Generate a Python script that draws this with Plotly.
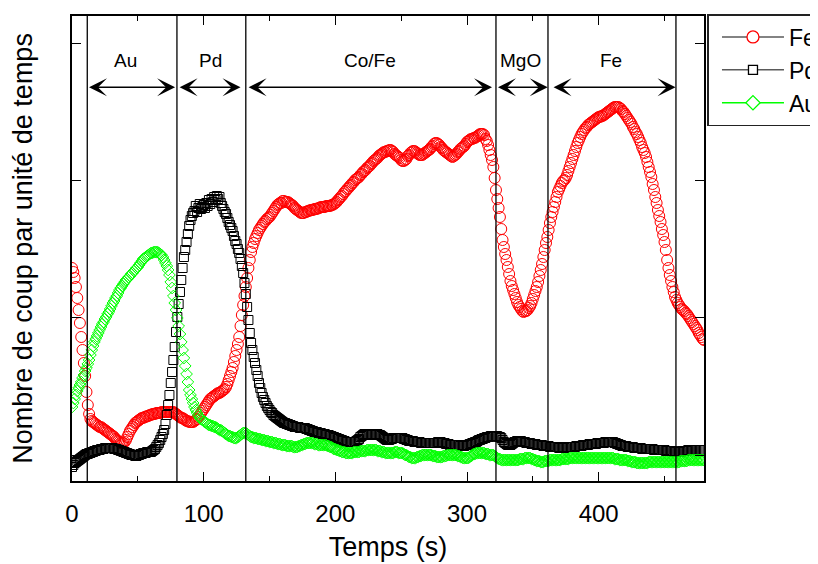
import plotly.graph_objects as go

# time axis (s), one sample per second
temps = list(range(0, 481))

# intensity (arbitrary counts units)
fe = [
    213,209,203,194,183,171,158,144,131,118,
    105,89,76,67,62,60,59,58,57,56,
    55,54,54,53,52,51,50,49,48,47,
    46,45,44,42,41,40,39,38,38,38,
    39,41,44,47,50,52,54,56,58,59,
    60,61,62,63,63,64,64,65,65,66,
    66,67,67,67,68,68,68,68,69,69,
    69,69,69,69,69,69,69,69,68,67,
    66,65,64,63,63,62,61,60,60,59,
    59,59,59,60,61,62,64,66,68,70,
    72,74,76,78,80,82,83,84,85,86,
    87,88,88,89,90,91,92,94,97,101,
    105,109,113,119,125,131,137,144,155,166,
    176,185,194,203,213,221,229,234,238,242,
    245,248,251,253,255,257,259,260,262,263,
    264,266,268,270,272,274,276,277,278,278,
    280,280,279,279,279,278,277,276,275,273,
    272,271,270,269,268,268,268,269,269,270,
    270,271,271,271,272,272,272,273,273,274,
    274,274,274,275,275,275,275,276,276,277,
    278,279,281,282,284,285,287,289,290,292,
    293,295,296,298,299,301,302,303,304,306,
    307,309,310,311,313,314,315,317,318,320,
    321,322,323,325,326,327,328,329,329,330,
    330,331,331,330,329,327,326,325,324,323,
    321,320,320,321,322,325,326,328,329,330,
    330,329,328,327,326,326,326,327,328,329,
    330,331,332,334,335,337,338,338,337,336,
    334,333,331,330,329,328,327,326,325,324,
    325,326,327,329,330,332,333,334,335,337,
    339,340,341,342,342,343,343,344,345,346,
    347,347,347,346,342,340,336,331,326,321,
    314,303,291,282,273,264,252,241,234,227,
    221,214,207,200,195,191,187,183,179,176,
    174,172,170,169,170,170,171,173,175,178,
    182,186,190,194,199,205,211,217,224,231,
    238,244,251,258,264,269,274,279,284,289,
    292,295,298,300,301,303,306,310,314,318,
    322,326,330,334,338,341,344,347,349,351,
    353,354,356,357,358,359,360,361,362,363,
    364,364,365,365,366,367,368,369,370,371,
    372,373,374,374,374,374,373,372,370,369,
    367,365,363,361,359,357,354,352,349,347,
    344,341,338,334,331,328,324,319,314,309,
    304,297,291,284,278,271,265,259,252,246,
    239,231,221,213,206,200,194,189,184,181,
    178,176,174,172,171,170,168,167,165,163,
    161,159,157,155,153,151,148,146,144,142,141,
]

pd_ = [
    14,16,18,19,20,21,22,23,24,25,
    26,27,27,28,28,29,29,30,30,31,
    31,31,32,32,32,33,33,33,33,33,
    33,33,32,32,32,31,31,30,30,29,
    29,28,28,27,27,26,26,26,25,25,
    26,26,27,27,28,28,28,29,29,29,
    29,30,31,32,34,36,38,41,44,47,
    51,57,66,76,86,98,109,121,134,149,
    164,177,189,201,213,224,231,239,247,255,
    261,265,268,270,275,269,273,277,272,274,
    276,273,278,275,281,277,282,279,284,281,
    285,282,284,278,275,272,269,267,263,259,
    256,253,250,245,240,237,232,228,222,215,
    208,198,187,174,161,148,138,131,124,118,
    111,105,98,93,88,84,81,78,75,73,
    71,69,68,66,65,64,63,62,61,60,
    59,58,58,57,57,56,56,55,55,54,
    54,54,54,53,53,53,53,53,52,52,
    51,51,50,50,49,49,49,48,48,48,
    47,47,47,46,46,46,45,45,44,44,
    43,43,42,42,41,41,40,40,39,39,
    39,39,39,39,39,39,40,41,42,44,
    45,46,47,47,47,46,46,46,47,47,
    47,47,47,46,46,45,44,43,42,41,
    41,41,42,42,43,43,43,43,43,43,
    43,43,42,42,41,41,40,40,40,40,
    39,39,39,39,39,38,38,38,38,38,
    38,38,38,38,38,38,38,38,39,39,
    39,38,38,38,37,37,37,36,36,36,
    36,36,36,36,36,35,35,35,35,36,
    36,36,37,37,38,38,39,39,40,41,
    41,42,42,43,43,44,44,44,45,45,
    45,45,45,45,44,44,43,41,39,38,
    37,36,36,36,37,38,39,39,40,40,
    40,40,39,39,39,38,38,38,38,37,
    37,37,37,36,36,36,36,36,35,35,
    35,35,35,34,34,34,34,34,34,34,
    33,33,33,33,33,34,34,34,34,34,
    34,34,34,35,35,35,35,35,36,36,
    36,36,36,37,37,37,37,37,37,38,
    38,38,38,38,38,39,39,39,39,39,
    39,39,38,38,37,37,36,36,35,35,
    35,35,34,34,34,34,34,33,33,33,
    33,33,33,32,32,32,32,32,32,32,
    32,32,31,31,31,31,31,31,31,31,
    31,30,30,30,30,30,30,29,29,29,
    29,29,29,30,30,30,30,30,31,31,
    31,31,31,31,31,31,31,31,31,31,31,
]

au = [
    74,78,82,86,90,93,96,99,103,106,
    110,113,117,121,126,131,135,139,142,145,
    148,151,154,157,159,162,164,167,169,172,
    175,178,180,183,185,188,191,193,195,197,
    199,201,202,204,205,207,208,210,211,213,
    214,216,218,220,222,223,224,225,226,227,
    228,228,229,229,229,229,228,227,226,224,
    221,218,215,211,206,199,193,185,178,171,
    163,155,147,139,131,123,115,107,99,91,
    86,82,78,74,71,68,65,63,62,61,
    60,59,58,57,56,56,55,55,54,54,
    53,52,51,51,50,49,48,47,46,45,
    45,44,44,43,43,43,44,45,46,47,
    48,48,48,47,46,45,44,44,43,43,
    43,42,42,42,41,41,41,40,40,40,
    39,39,39,38,38,38,37,37,37,36,
    36,36,36,35,35,35,35,35,34,34,
    34,34,35,35,36,36,37,37,38,38,
    38,38,38,38,37,37,37,36,36,36,
    36,36,36,36,35,35,34,34,33,32,
    32,31,31,30,30,29,29,29,28,28,
    28,28,28,28,29,29,29,29,29,30,
    30,30,30,30,31,31,31,31,31,31,
    31,31,30,30,30,29,29,29,28,28,
    28,28,28,28,28,29,29,29,28,28,
    28,28,27,26,26,25,24,24,23,23,
    23,23,24,24,25,25,26,26,26,26,
    26,26,26,26,25,25,25,24,24,24,
    24,24,25,25,25,26,26,26,26,26,
    26,26,26,25,25,24,24,23,23,23,
    23,23,24,25,26,27,27,28,28,28,
    28,28,28,28,27,27,27,26,26,26,
    26,25,24,23,22,22,21,21,21,21,
    21,21,21,21,21,21,21,21,21,21,
    22,22,22,22,23,23,23,23,23,22,
    22,21,21,20,20,20,19,19,19,20,
    20,20,20,21,21,21,21,21,21,21,
    21,21,22,22,22,22,22,22,23,23,
    23,23,23,23,23,23,23,23,23,23,
    23,23,23,23,23,23,23,23,23,23,
    23,23,23,23,23,23,23,23,23,23,
    23,23,22,22,22,22,21,21,21,21,
    21,21,20,20,20,19,19,19,19,18,
    18,18,18,18,18,18,18,18,19,19,
    19,19,19,19,19,19,19,19,19,19,
    19,19,19,19,19,19,19,19,19,19,
    19,19,20,20,20,20,20,20,21,21,
    21,21,21,21,21,21,21,21,21,21,21,
]

# layer boundaries (s) and labels
boundaries = [11.6, 79.7, 132, 322, 361.5, 458.7]
layer_names = ["Au", "Pd", "Co/Fe", "MgO", "Fe"]
layer_label_x = [40.8, 105.5, 226.2, 340.8, 409.6]
arrow_start = [11.8, 80.6, 133, 322.4, 364.6]
arrow_end = [78.3, 128, 319, 361.3, 458.4]
arrow_level = 393.7
label_level = 421
y_ticks = [26, 163.3, 300.6, 438]
x_ticks = [0, 100, 200, 300, 400]

FONT = "Arial, Liberation Sans, sans-serif"

fig = go.Figure()

fig.add_trace(go.Scatter(x=temps, y=fe, mode="markers", showlegend=False,
                         marker=dict(symbol="circle-open", size=11, color="#ff0000",
                                     line=dict(width=1, color="#ff0000"))))
fig.add_trace(go.Scatter(x=temps, y=pd_, mode="markers", showlegend=False,
                         marker=dict(symbol="square-open", size=9, color="#000000",
                                     line=dict(width=1, color="#000000"))))
fig.add_trace(go.Scatter(x=temps, y=au, mode="markers", showlegend=False,
                         marker=dict(symbol="diamond-open", size=9, color="#00ff00",
                                     line=dict(width=1, color="#00ff00"))))

# legend entries (white-filled symbols so the legend line is interrupted)
fig.add_trace(go.Scatter(x=[None], y=[None], mode="lines+markers", name="Fe",
                         line=dict(color="#5a5a5a", width=1.5),
                         marker=dict(symbol="circle", size=12, color="white",
                                     line=dict(width=1.3, color="#ff0000"))))
fig.add_trace(go.Scatter(x=[None], y=[None], mode="lines+markers", name="Pd",
                         line=dict(color="#5a5a5a", width=1.5),
                         marker=dict(symbol="square", size=9, color="white",
                                     line=dict(width=1.3, color="#000000"))))
fig.add_trace(go.Scatter(x=[None], y=[None], mode="lines+markers", name="Au",
                         line=dict(color="#00ff00", width=1.5),
                         marker=dict(symbol="diamond", size=11, color="white",
                                     line=dict(width=1.3, color="#00ff00"))))

shapes = []
for b in boundaries:
    shapes.append(dict(type="line", xref="x", yref="paper", x0=b, x1=b, y0=0, y1=1,
                       line=dict(color="black", width=1.3)))

annotations = []
for s, e in zip(arrow_start, arrow_end):
    annotations.append(dict(x=e, y=arrow_level, ax=s, ay=arrow_level, xref="x", yref="y",
                            axref="x", ayref="y", text="", showarrow=True,
                            arrowhead=3, startarrowhead=3, arrowside="end+start",
                            arrowsize=2, startarrowsize=2, arrowwidth=1.5,
                            arrowcolor="black", standoff=0, startstandoff=0))
for name, lx in zip(layer_names, layer_label_x):
    annotations.append(dict(x=lx, y=label_level, xref="x", yref="y", text=name,
                            showarrow=False, font=dict(family=FONT, size=19, color="black")))

# the page adds an 8 px body margin, so the figure is 8 px smaller each way
fig.update_layout(
    width=810, height=556,
    margin=dict(l=64, r=114, t=8, b=83, autoexpand=False),
    paper_bgcolor="white", plot_bgcolor="white",
    font=dict(family=FONT, color="black"),
    shapes=shapes, annotations=annotations,
    legend=dict(x=1.0055, y=1.0043, xanchor="left", yanchor="top",
                bordercolor="#222222", borderwidth=1.5, bgcolor="white",
                font=dict(family=FONT, size=23, color="black"),
                itemwidth=62, indentation=8, tracegroupgap=0),
)

fig.update_xaxes(range=[0, 480], tickvals=x_ticks, ticks="inside", ticklen=9, tickwidth=1.3,
                 tickcolor="black", showline=True, linecolor="black", linewidth=1.5,
                 mirror="allticks", showgrid=False, zeroline=False,
                 minor=dict(dtick=50, tick0=0, ticks="inside", ticklen=5, tickwidth=1.3,
                            tickcolor="black", showgrid=False),
                 tickfont=dict(family=FONT, size=24), ticklabelstandoff=10,
                 title=dict(text="Temps (s)", font=dict(family=FONT, size=27), standoff=12))
fig.update_yaxes(range=[0, 465], tickvals=y_ticks, ticks="inside", ticklen=9, tickwidth=1.3,
                 tickcolor="black", showline=True, linecolor="black", linewidth=1.5,
                 mirror="allticks", showgrid=False, zeroline=False, showticklabels=False,
                 title=dict(text="Nombre de coup par unité de temps",
                            font=dict(family=FONT, size=27), standoff=30))

fig.write_html("out.html")
